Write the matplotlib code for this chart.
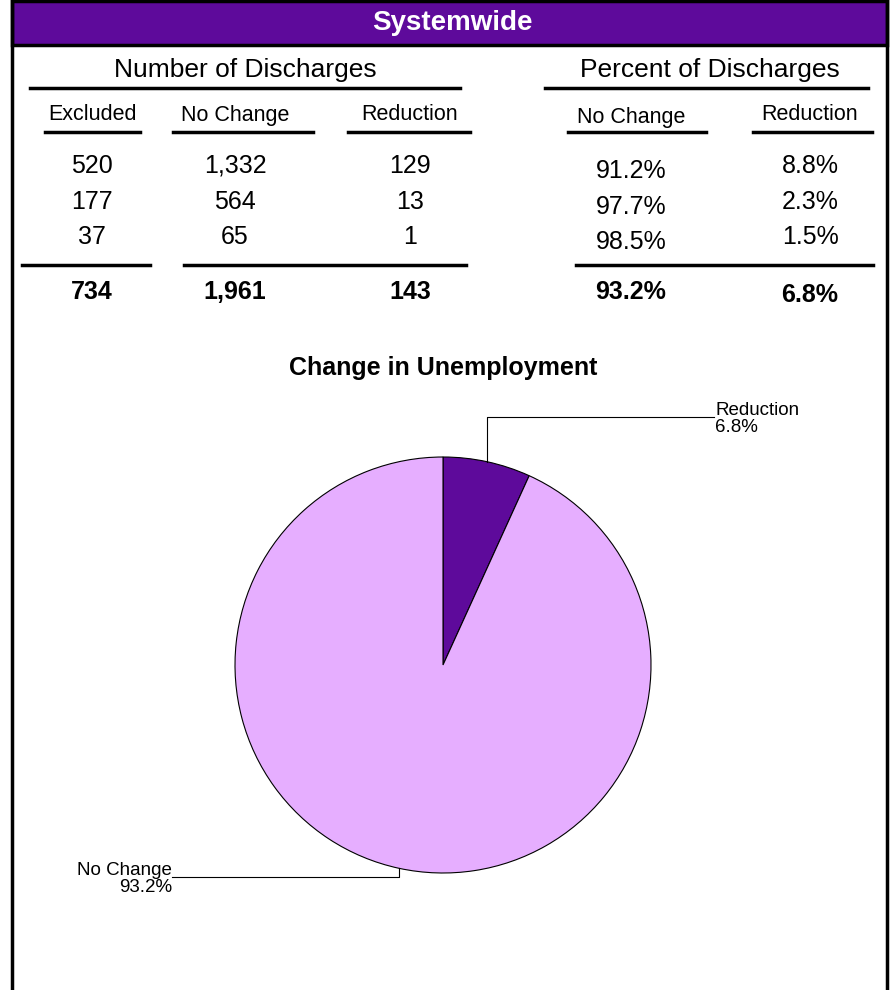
import matplotlib
matplotlib.use("Agg")
import matplotlib.pyplot as plt
import numpy as np

plt.rcParams['font.family'] = ['Liberation Sans', 'DejaVu Sans']

# data
title = "Systemwide"
count_cols = ["Excluded", "No Change", "Reduction"]
pct_cols = ["No Change", "Reduction"]
excluded = [520, 177, 37]
no_change = [1332, 564, 65]
reduction = [129, 13, 1]
pct_no_change = [91.2, 97.7, 98.5]
pct_reduction = [8.8, 2.3, 1.5]
total_counts = [734, 1961, 143]
total_pct = [93.2, 6.8]
pie_title = "Change in Unemployment"
pie_labels = ["Reduction", "No Change"]
pie_values = [6.8, 93.2]

dark = "#5E0A9B"
light = "#E6AEFF"

fig = plt.figure(figsize=(8.9, 9.9), dpi=100)
ax = fig.add_axes([0, 0, 1, 1])
ax.set_xlim(0, 890)
ax.set_ylim(990, 0)
ax.axis("off")

# frame + header band
ax.add_patch(plt.Rectangle((12, 1), 875, 44, facecolor=dark, edgecolor="black", lw=2.5))
ax.plot([12, 12], [1, 990], color="black", lw=2.5)
ax.plot([887, 887], [1, 990], color="black", lw=2.5)
ax.text(452, 23, title, color="white", fontsize=20, fontweight="bold", ha="center", va="center")

# section titles
ax.text(245, 70, "Number of Discharges", fontsize=19, ha="center", va="center")
ax.text(710, 70, "Percent of Discharges", fontsize=19, ha="center", va="center")
ax.plot([30, 460], [88, 88], color="black", lw=2.5)
ax.plot([545, 868], [88, 88], color="black", lw=2.5)

# column headers
cx = [92, 235, 410]
px = [631, 810]
for x, lab in zip(cx, count_cols):
    ax.text(x, 115, lab, fontsize=15.5, ha="center", va="center")
ax.text(px[0], 118, pct_cols[0], fontsize=15.5, ha="center", va="center")
ax.text(px[1], 115, pct_cols[1], fontsize=15.5, ha="center", va="center")
for x0, x1 in [(45, 140), (173, 313), (348, 470), (568, 706), (753, 872)]:
    ax.plot([x0, x1], [132, 132], color="black", lw=2.5)

# rows
rows_y = [166, 202, 237]
fs = 18
for i, y in enumerate(rows_y):
    for x, v in zip(cx, [excluded[i], no_change[i], reduction[i]]):
        ax.text(x, y, f"{v:,}", fontsize=fs, ha="center", va="center")
    ax.text(px[0], y + 5, f"{pct_no_change[i]:.1f}%", fontsize=fs, ha="center", va="center")
    ax.text(px[1], y, f"{pct_reduction[i]:.1f}%", fontsize=fs, ha="center", va="center")

for x0, x1 in [(22, 150), (184, 466), (576, 873)]:
    ax.plot([x0, x1], [265, 265], color="black", lw=2.5)

for x, v in zip(cx, total_counts):
    ax.text(x, 292, f"{v:,}", fontsize=fs, fontweight="bold", ha="center", va="center")
ax.text(px[0], 292, f"{total_pct[0]:.1f}%", fontsize=fs, fontweight="bold", ha="center", va="center")
ax.text(px[1], 295, f"{total_pct[1]:.1f}%", fontsize=fs, fontweight="bold", ha="center", va="center")

ax.text(443, 368, pie_title, fontsize=18, fontweight="bold", ha="center", va="center")

# pie: radius 208 px, centre at (443, 665) px
R = 208.0
half = 300.0 / R
pax = fig.add_axes([(443 - 300) / 890, (990 - 665 - 300) / 990, 600 / 890, 600 / 990])
wedges, _ = pax.pie(pie_values, colors=[dark, light], startangle=90, counterclock=False,
                    radius=1, wedgeprops=dict(edgecolor="black", linewidth=0.8))
pax.set_xlim(-half, half)
pax.set_ylim(-half, half)
pax.set_aspect("equal")
pax.axis("off")

# leader lines and labels
label_ends = [((714 - 443) / R, (665 - 417) / R), ((172 - 443) / R, (665 - 877) / R)]
for w, lab, v, (lx, ly) in zip(wedges, pie_labels, pie_values, label_ends):
    mid = np.deg2rad((w.theta1 + w.theta2) / 2)
    sx, sy = np.cos(mid), np.sin(mid)
    pax.plot([sx, sx, lx], [sy, ly, ly], color="black", lw=0.8, clip_on=False)
    if lx > 0:
        pax.text(lx + 0.005, ly - 0.01, f"{lab}\n{v:.1f}%", fontsize=13.5, ha="left", va="center",
                 linespacing=0.95, clip_on=False)
    else:
        pax.text(lx, ly - 0.01, f"{lab}\n{v:.1f}%", fontsize=13.5, ha="right", va="center",
                 linespacing=0.95, multialignment="right", clip_on=False)

fig.savefig("out.png", dpi=100)
